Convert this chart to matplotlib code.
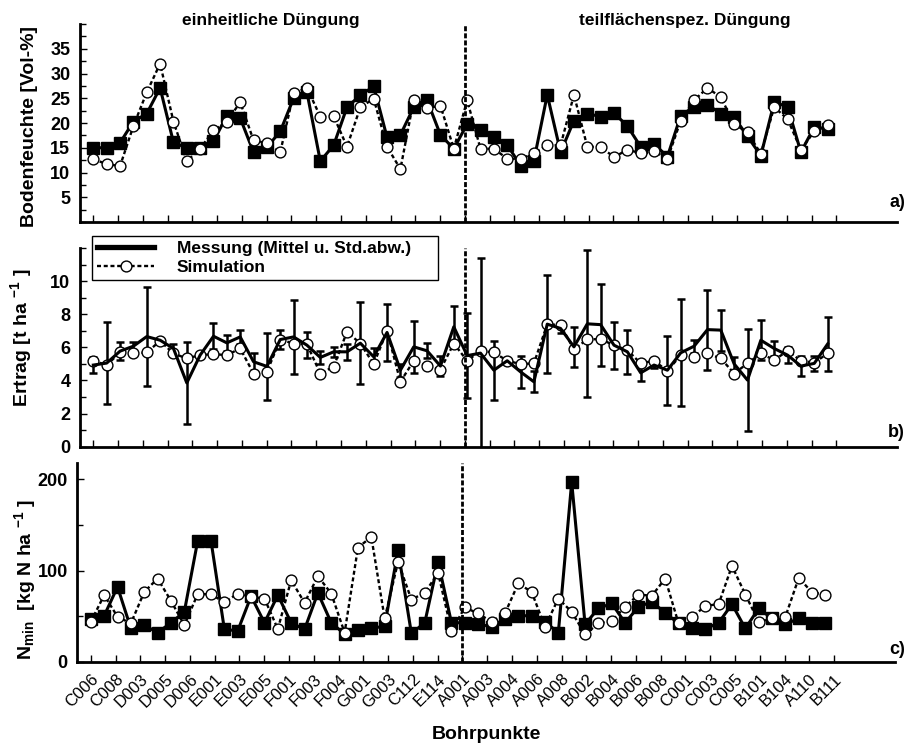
import numpy as np
import matplotlib
matplotlib.use("Agg")
import matplotlib.pyplot as plt
from matplotlib.lines import Line2D
from matplotlib.ticker import MultipleLocator

plt.rcParams['font.family'] = ['Liberation Sans', 'DejaVu Sans']
plt.rcParams['mathtext.fontset'] = 'custom'
plt.rcParams['mathtext.rm'] = 'Liberation Sans:bold'
plt.rcParams['mathtext.it'] = 'Liberation Sans:bold'
plt.rcParams['mathtext.bf'] = 'Liberation Sans:bold'
plt.rcParams['mathtext.default'] = 'rm'

# tick labels (Bohrpunkte)
labels = ["C006", "C008", "D003", "D005", "D006", "E001", "E003", "E005",
          "F001", "F003", "F004", "G001", "G003", "C112", "E114", "A001",
          "A003", "A004", "A006", "A008", "B002", "B004", "B006", "B008",
          "C001", "C003", "C005", "B101", "B104", "A110", "B111"]

# a) Bodenfeuchte [Vol-%]
feuchte_mess = [15, 15, 16, 20.3, 21.9, 27.1, 16.1, 15, 15, 16.3,
                21.5, 21.0, 14.1, 15.1, 18.3, 25.0, 26.2, 12.3, 15.5, 23.2,
                25.6, 27.4, 17.1, 17.6, 23.2, 24.6, 17.6, 14.8, 19.8, 18.6,
                17.1, 15.6, 11.4, 12.4, 25.7, 14.1, 20.5, 21.9, 21.3, 22.0,
                19.4, 15.2, 15.8, 13.2, 21.5, 23.3, 23.7, 21.9, 21.2, 17.3,
                13.4, 24.2, 23.3, 14.1, 19.2, 18.8]
feuchte_sim = [12.7, 11.7, 11.3, 19.4, 26.2, 32.0, 20.3, 12.3, 14.8, 18.5,
               20.3, 24.2, 16.5, 15.9, 14.1, 26.0, 27.1, 21.3, 21.4, 15.2,
               23.2, 24.9, 15.2, 10.7, 24.7, 23.0, 23.5, 14.8, 24.6, 14.8,
               14.8, 12.8, 12.7, 13.9, 15.5, 15.5, 25.7, 15.2, 15.2, 13.1,
               14.6, 13.9, 14.4, 12.7, 20.5, 24.6, 27.1, 25.2, 19.8, 18.1,
               13.8, 23.2, 20.8, 14.6, 18.3, 19.6]

# b) Ertrag [t/ha]
ertrag_mess = [4.93, 5.05, 5.77, 6.07, 6.65, 6.43, 5.93, 3.85, 5.53, 6.67,
               6.27, 6.63, 5.13, 4.85, 6.47, 6.63, 6.13, 5.39, 5.73, 5.73,
               6.25, 5.43, 6.9, 4.62, 6.03, 5.79, 4.87, 7.24, 5.5, 5.65,
               4.62, 5.19, 4.52, 3.92, 7.4, 7.14, 6.03, 7.42, 7.37, 6.13,
               5.73, 4.46, 4.93, 4.62, 5.67, 6.07, 7.07, 7.04, 5.0, 4.02,
               6.43, 5.93, 5.53, 4.87, 5.03, 6.2]
ertrag_std = [0.5, 2.5, 0.55, 0.25, 3.0, 0.1, 0.3, 2.48, 0.2, 0.8,
              0.47, 0.43, 0.53, 2.03, 0.6, 2.25, 0.8, 0.4, 0.3, 0.5,
              2.48, 0.55, 1.7, 0.4, 1.57, 0.46, 0.63, 1.24, 2.58, 5.75,
              1.77, 0.15, 0.98, 0.63, 2.97, 0.3, 1.2, 4.44, 2.48, 1.41,
              1.33, 0.5, 0.15, 2.09, 3.22, 0.4, 2.41, 1.24, 0.4, 3.06,
              1.2, 0.46, 0.5, 0.6, 0.45, 1.63]
ertrag_sim = [5.19, 4.93, 5.69, 5.63, 5.69, 6.39, 5.63, 5.33, 5.53, 5.59,
              5.53, 5.93, 4.42, 4.52, 6.47, 6.23, 6.19, 4.42, 4.83, 6.94,
              6.23, 4.99, 7.0, 3.92, 5.19, 4.87, 4.66, 6.23, 5.19, 5.79,
              5.69, 5.19, 4.99, 5.03, 7.4, 7.34, 5.87, 6.49, 6.49, 6.13,
              5.83, 5.03, 5.19, 4.58, 5.53, 5.39, 5.63, 5.33, 4.42, 5.03,
              5.63, 5.23, 5.79, 5.19, 5.07, 5.63]

# c) Nmin [kg N/ha]
nmin_mess = [46.7, 50.4, 82.1, 36.5, 40.1, 31.8, 42.7, 54.7, 132.5, 132.5,
             35.4, 33.9, 71.9, 42.7, 73.0, 42.7, 35.4, 75.5, 42.7, 30.3,
             34.7, 36.5, 39.1, 122.3, 31.0, 42.7, 109.5, 42.7, 42.7, 41.2,
             38.3, 47.0, 50.4, 50.4, 43.8, 31.8, 197.1, 41.2, 58.4, 63.9,
             42.7, 60.2, 65.7, 53.6, 42.0, 36.5, 35.8, 42.7, 63.1, 36.5,
             58.4, 47.4, 41.2, 47.4, 42.7, 42.0]
nmin_sim = [43.8, 73.0, 49.3, 42.0, 76.6, 91.2, 66.8, 40.1, 74.1, 74.1,
            65.0, 74.8, 71.2, 69.3, 35.8, 89.4, 64.6, 93.8, 74.8, 31.8,
            125.2, 136.9, 47.4, 109.5, 68.2, 75.5, 97.4, 33.9, 59.5, 52.9,
            43.8, 52.9, 85.8, 76.6, 38.3, 69.3, 54.7, 29.9, 42.0, 44.9,
            60.2, 73.7, 72.3, 91.2, 42.0, 48.5, 61.3, 63.1, 105.1, 73.7,
            43.8, 47.4, 49.3, 92.0, 75.9, 73.7]

x = np.arange(len(feuchte_mess))
tick_pos = np.arange(len(labels)) * 1.855
trenn = tick_pos[15]  # A001

fig = plt.figure(figsize=(9.07, 7.46), dpi=100)
ax1 = fig.add_axes([0.0882, 0.7024, 0.9008, 0.2654])
ax2 = fig.add_axes([0.0882, 0.4012, 0.9008, 0.2664])
ax3 = fig.add_axes([0.0854, 0.1130, 0.9013, 0.2664])

mess_kw = dict(color='black', lw=2.2, marker='s', ms=8, mfc='black', mec='black')
sim_kw = dict(color='black', lw=1.7, ls=(0, (1.7, 1.15)), marker='o', ms=7.8,
              mfc='white', mec='black', mew=1.0)

# a)
ax1.plot(x, feuchte_mess, **mess_kw)
ax1.plot(x, feuchte_sim, **sim_kw)
ax1.set_ylim(0, 40)
ax1.set_yticks([5, 10, 15, 20, 25, 30, 35])
ax1.yaxis.set_minor_locator(MultipleLocator(2.5))
ax1.set_ylabel("Bodenfeuchte [Vol-%]", fontsize=14, fontweight='bold')
ax1.yaxis.set_label_coords(-0.052, 0.48)

# b)
ax2.errorbar(x, ertrag_mess, yerr=ertrag_std, color='black', lw=2.2,
             elinewidth=1.8, capsize=3, capthick=1.8)
ax2.plot(x, ertrag_sim, **sim_kw)
ax2.set_ylim(0, 12)
ax2.set_yticks([0, 2, 4, 6, 8, 10])
ax2.yaxis.set_minor_locator(MultipleLocator(1))
ax2.set_ylabel("Ertrag [t ha $^{-1}$ ]", fontsize=14, fontweight='bold')
ax2.yaxis.set_label_coords(-0.056, 0.547)

# c)
ax3.plot(x, nmin_mess, **mess_kw)
ax3.plot(x, nmin_sim, **sim_kw)
ax3.set_ylim(0, 218)
ax3.set_yticks([0, 100, 200])
ax3.yaxis.set_minor_locator(MultipleLocator(50))
ax3.set_ylabel("N$_{min}$  [kg N ha $^{-1}$ ]", fontsize=14, fontweight='bold')
ax3.yaxis.set_label_coords(-0.048, 0.416)
ax3.set_xlabel("Bohrpunkte", fontsize=14, fontweight='bold', labelpad=11)

for ax in (ax1, ax2, ax3):
    ax.set_xlim(-1.0, 60.2)
    ax.set_xticks(tick_pos)
    ax.axvline(trenn, color='black', lw=2, ls=(0, (1.8, 0.75)))
    for s in ('top', 'right'):
        ax.spines[s].set_visible(False)
    for s in ('left', 'bottom'):
        ax.spines[s].set_linewidth(2)
    ax.tick_params(axis='both', which='major', direction='in', length=5, width=1,
                   labelsize=13, pad=7)
    ax.tick_params(axis='y', which='minor', direction='in', length=4, width=1)
    for t in ax.get_yticklabels():
        t.set_fontweight('bold')

ax1.set_xticklabels([])
ax2.set_xticklabels([])
ax3.set_xticklabels(labels, rotation=45, ha='right', va='top',
                    rotation_mode='anchor', fontsize=12)
ax3.tick_params(axis='x', pad=7)

# Legende
h_mess = Line2D([], [], color='black', lw=3.8)
h_sim = Line2D([], [], **sim_kw)
fig.legend([h_mess, h_sim], ["Messung (Mittel u. Std.abw.)", "Simulation"],
           loc='upper left', bbox_to_anchor=(0.1014, 0.6836 - 0.063, 0.3815, 0.063),
           bbox_transform=fig.transFigure, mode='expand', borderaxespad=0,
           prop={'weight': 'bold', 'size': 12.5}, handlelength=3.3,
           handletextpad=1.3, labelspacing=0.2, borderpad=0.3,
           fancybox=False, framealpha=1, edgecolor='black')

fig.text(0.299, 0.973, "einheitliche Düngung", ha='center', va='center',
         fontsize=12.5, fontweight='bold')
fig.text(0.755, 0.973, "teilflächenspez. Düngung", ha='center', va='center',
         fontsize=12.5, fontweight='bold')

fig.text(0.998, 0.728, "a)", ha='right', va='center', fontsize=13, fontweight='bold')
fig.text(0.998, 0.420, "b)", ha='right', va='center', fontsize=13, fontweight='bold')
fig.text(0.998, 0.129, "c)", ha='right', va='center', fontsize=13, fontweight='bold')

fig.savefig("out.png", dpi=100)
